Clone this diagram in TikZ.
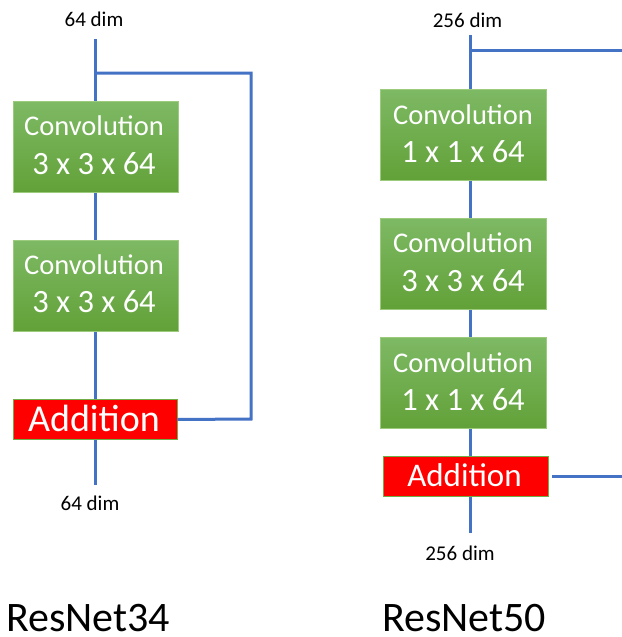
\documentclass[tikz,border=0pt]{standalone}
\usepackage{fontspec}
\setmainfont{Carlito}
\definecolor{lineblue}{HTML}{4472C4}
\definecolor{gtop}{HTML}{7EB964}
\definecolor{gbot}{HTML}{62A138}
\definecolor{gedge}{HTML}{9CCB7E}
\definecolor{redge}{HTML}{70AD47}
\begin{document}
\begin{tikzpicture}[x=1pt,y=-1pt,
  wire/.style={draw=lineblue,line width=3pt},
  convbox/.style={draw=gedge,line width=0.8pt,top color=gtop,bottom color=gbot,minimum width=#1,minimum height=91pt,inner sep=0pt},
  addbox/.style={draw=redge,line width=0.8pt,fill=red,minimum width=#1,minimum height=39.5pt,inner sep=0pt},
  ctext/.style={anchor=base,text=white,font=\fontsize{28.5}{28.5}\selectfont,inner sep=0pt},
  ntext/.style={anchor=base,text=white,font=\fontsize{32.5}{32.5}\selectfont,inner sep=0pt},
  atext/.style={anchor=base,text=white,inner sep=0pt},
  dimtext/.style={text=black,font=\fontsize{21}{21}\selectfont,inner sep=0pt},
  title/.style={anchor=base west,text=black,font=\fontsize{42}{42}\selectfont,inner sep=0pt,text depth=0pt}]
\useasboundingbox (0,0) rectangle (621,637);
% ---------------- ResNet34 ----------------
\coordinate (Ltop) at (95,39);
\coordinate (Lbot) at (95,485);
\coordinate (Lbr) at (95,73);
\coordinate (Lc1) at (251,73);
\coordinate (Lc2) at (251,419);
\draw[wire] (Ltop) -- (Lbot);
\node[convbox=165pt] (Lconv1) at (95.5,147) {};
\node[convbox=165pt] (Lconv2) at (95.5,285.5) {};
\node[addbox=164pt] (Ladd) at (95,419.5) {};
\draw[wire] (Lbr) -- (Lc1) -- (Lc2) -- (Ladd.east);
\node[ctext] (Lconv1a) at (94,135) {Convolution};
\node[ntext] (Lconv1b) at (94,174) {3 x 3 x 64};
\node[ctext] (Lconv2a) at (94,274) {Convolution};
\node[ntext] (Lconv2b) at (94,312) {3 x 3 x 64};
\node[atext,font=\fontsize{38}{38}\selectfont] (Ladda) at (94,431.5) {Addition};
\node[dimtext] (Ldimtop) at (94,19) {64 dim};
\node[dimtext] (Ldimbot) at (90,503) {64 dim};
\node[title] (Lname) at (6,631) {ResNet34};
% ---------------- ResNet50 ----------------
\coordinate (Rtop) at (470,35);
\coordinate (Rbot) at (470,533);
\coordinate (Rbr) at (470,50);
\coordinate (Rbrend) at (622,50);
\coordinate (Rabr) at (552,476.5);
\coordinate (Rabrend) at (622,476.5);
\draw[wire] (Rtop) -- (Rbot);
\draw[wire] (Rbr) -- (Rbrend);
\node[convbox=166pt] (Rconv1) at (463,134.5) {};
\node[convbox=166pt] (Rconv2) at (463,263.5) {};
\node[convbox=166pt] (Rconv3) at (463,383) {};
\node[addbox=165pt] (Radd) at (465.5,476.5) {};
\draw[wire] (Rabr) -- (Rabrend);
\node[ctext] (Rconv1a) at (463,124) {Convolution};
\node[ntext] (Rconv1b) at (463,162) {1 x 1 x 64};
\node[ctext] (Rconv2a) at (463,252) {Convolution};
\node[ntext] (Rconv2b) at (463,291) {3 x 3 x 64};
\node[ctext] (Rconv3a) at (463,372) {Convolution};
\node[ntext] (Rconv3b) at (463,410.5) {1 x 1 x 64};
\node[atext,font=\fontsize{33}{33}\selectfont] (Radda) at (464.5,486) {Addition};
\node[dimtext] (Rdimtop) at (467.5,20) {256 dim};
\node[dimtext] (Rdimbot) at (460,553) {256 dim};
\node[title] (Rname) at (382,631) {ResNet50};
\end{tikzpicture}
\end{document}
